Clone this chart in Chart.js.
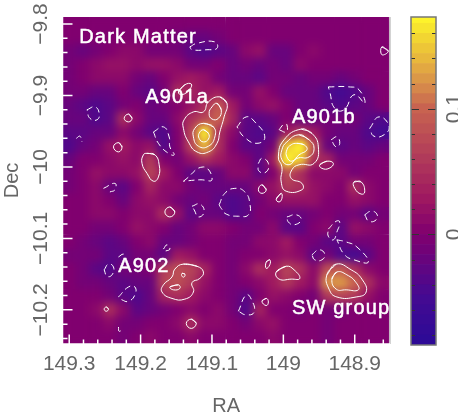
<!DOCTYPE html>
<html><head><meta charset="utf-8">
<style>html,body{margin:0;padding:0;background:#fff;width:458px;height:414px;overflow:hidden}
#wrap{position:relative;width:458px;height:414px}
#map{position:absolute;left:0;top:0}#bar{position:absolute;left:400px;top:0}</style>
<script src="https://cdn.jsdelivr.net/npm/chart.js@4"></script>
</head><body><div id="wrap"><canvas id="map" width="458" height="414"></canvas><canvas id="bar" width="58" height="414"></canvas></div>
<script>
const raCenters=[149.300,149.281,149.262,149.243,149.224,149.205,149.186,149.167,149.148,149.129,149.110,149.091,149.071,149.052,149.033,149.014,148.995,148.976,148.957,148.938,148.919,148.900,148.881,148.862];
const decCenters=[-9.800,-9.819,-9.838,-9.857,-9.876,-9.895,-9.914,-9.933,-9.952,-9.971,-9.990,-10.009,-10.028,-10.047,-10.066,-10.085,-10.105,-10.124,-10.143,-10.162,-10.181,-10.200,-10.219,-10.238];
const massRows=[
[0,0,0,0,0,0,0,0,0,0,0,0,0,0,0,0,0,0,0,0,0,0,0,0],
[0,0,0,0,0,0,0,0,-.01,-.02,-.02,-.01,0,0,0,0,0,0,0,0,0,0,0,0],
[-.01,-.02,-.01,0,.01,.01,-.01,-.01,-.01,-.03,-.04,-.03,-.02,.01,.02,-.02,-.02,0,.01,0,0,0,0,0],
[-.01,0,.01,.02,.02,.01,.02,.02,.01,-.01,-.01,0,-.02,-.01,-.02,-.01,-.02,.01,0,0,0,0,0,0],
[-.01,0,.01,.01,.01,-.01,-.02,0,.02,.03,.02,-.01,-.02,-.02,-.03,-.01,-.01,-.02,-.01,-.01,-.02,-.01,0,0],
[-.01,-.01,-.02,-.02,0,-.02,-.03,-.01,.05,.04,.02,.03,-.01,-.01,.02,0,-.02,-.02,-.02,-.04,-.05,-.04,-.02,0],
[-.02,-.03,-.04,-.03,-.01,0,-.02,-.01,0,.02,.05,.09,.03,-.01,.01,.02,0,-.02,-.02,-.03,-.04,-.03,-.02,0],
[-.02,-.02,-.04,-.03,.05,.01,-.02,-.02,.01,.05,.07,.10,.04,-.03,-.03,-.02,0,-.02,-.02,-.01,-.01,-.01,-.03,-.04],
[-.03,-.03,-.02,-.02,.01,-.01,-.03,-.04,0,.07,.17,.05,.01,-.03,-.04,-.03,.03,.06,.03,-.01,-.02,-.02,-.04,-.05],
[-.04,-.02,-.01,.02,.03,.01,.02,-.04,0,.07,.14,.05,0,-.03,-.03,-.01,.15,.18,.08,-.02,-.03,-.02,-.03,-.02],
[-.02,0,0,.01,.02,.01,.06,0,-.01,.02,.05,.03,.01,0,-.03,.03,.20,.15,.05,.04,-.01,-.01,-.01,0],
[-.01,0,.02,.01,.01,.02,.07,.03,0,-.03,-.03,-.02,.01,.01,-.03,0,.08,.05,.01,.01,.01,-.01,0,0],
[-.01,0,.01,-.02,-.03,0,.04,.01,.01,-.01,-.02,-.02,-.02,-.02,.01,.02,.06,.05,.02,.01,0,.05,.01,0],
[0,0,.01,0,-.02,.01,.02,.01,-.01,-.02,-.01,-.03,-.04,-.03,-.01,.01,.02,.02,.02,0,0,.02,.01,0],
[0,0,.01,.01,0,.01,.01,.05,.02,-.03,-.02,-.02,-.04,-.03,0,-.01,-.02,-.02,-.01,0,-.01,-.01,-.03,-.01],
[0,0,-.01,-.01,0,.02,.01,0,-.02,-.01,.01,.01,0,-.01,-.01,.01,-.03,-.03,0,.01,-.03,.02,.01,0],
[0,-.01,-.02,-.03,-.02,0,.01,-.02,-.02,-.01,0,0,-.01,-.01,.01,.01,.03,0,-.01,-.03,-.03,-.01,-.01,0],
[-.01,-.01,-.01,-.03,-.03,-.01,-.01,-.03,.03,.02,0,0,-.01,0,0,.01,.02,.01,-.03,-.01,-.04,-.05,-.03,0],
[0,-.01,-.03,-.04,-.01,-.01,0,.06,.08,.07,.04,0,-.01,.01,.05,.03,.07,.05,.01,.08,.09,.05,.01,0],
[0,-.01,-.01,-.02,-.03,-.02,-.02,.07,.08,.06,.02,0,-.01,0,.01,.03,.06,.03,.01,.12,.125,.10,.05,.01],
[0,0,0,-.01,-.03,-.04,-.02,.04,.05,.03,.01,0,-.01,-.03,0,.02,.01,0,-.01,.06,.07,.06,.02,0],
[0,0,.01,.05,.01,-.03,-.02,-.01,0,.01,0,.01,-.01,-.04,.04,0,0,-.01,0,-.01,-.01,0,0,0],
[0,0,0,.01,-.01,-.01,0,0,.01,.05,.01,.01,0,-.01,.01,.02,0,0,0,-.01,0,0,0,0],
[0,0,0,0,-.01,0,.01,0,0,.01,0,0,0,0,0,.01,0,0,0,-.01,0,0,0,0]];
const solidContours=[
[149.089,-9.902,149.079,-9.911,149.083,-9.930,149.089,-9.951,149.093,-9.967,149.105,-9.979,149.121,-9.979,149.133,-9.965,149.140,-9.946,149.139,-9.934,149.126,-9.923,149.112,-9.923,149.105,-9.909],
[149.093,-9.911,149.087,-9.920,149.091,-9.932,149.100,-9.933,149.104,-9.925,149.100,-9.916],
[149.112,-9.939,149.098,-9.944,149.096,-9.958,149.105,-9.971,149.119,-9.971,149.126,-9.958,149.124,-9.946],
[149.112,-9.948,149.105,-9.953,149.105,-9.961,149.112,-9.965,149.118,-9.960,149.118,-9.953],
[149.191,-9.981,149.180,-9.983,149.174,-9.997,149.175,-10.014,149.182,-10.020,149.191,-10.009,149.198,-9.995,149.196,-9.983],
[149.217,-9.926,149.212,-9.932,149.217,-9.937,149.223,-9.932],
[149.231,-9.966,149.226,-9.972,149.231,-9.979,149.238,-9.972],
[149.147,-9.895,149.138,-9.885,149.129,-9.884,149.131,-9.891,149.142,-9.899],
[148.975,-9.947,148.960,-9.953,148.951,-9.972,148.957,-9.995,148.978,-9.997,148.988,-10.004,148.989,-10.016,148.974,-10.023,148.974,-10.032,148.996,-10.034,149.003,-10.021,149.002,-10.000,149.007,-9.986,148.999,-9.962],
[148.978,-9.955,148.964,-9.962,148.957,-9.974,148.964,-9.986,148.981,-9.988,148.992,-9.997,149.002,-9.990,149.002,-9.976,148.995,-9.965],
[148.981,-9.967,148.971,-9.969,148.967,-9.976,148.978,-9.983,148.988,-9.992,148.995,-9.986,148.995,-9.976,148.989,-9.969],
[148.949,-9.997,148.939,-9.992,148.930,-9.995,148.936,-10.002,148.946,-10.002],
[148.901,-10.021,148.891,-10.021,148.886,-10.035,148.891,-10.038,148.900,-10.030],
[149.030,-10.025,149.024,-10.032,149.030,-10.037,149.035,-10.032],
[149.010,-10.045,149.003,-10.037,149.002,-10.044,149.006,-10.049],
[148.862,-9.832,148.853,-9.838,148.862,-9.843],
[149.159,-10.056,149.152,-10.063,149.159,-10.070,149.166,-10.063],
[149.140,-10.136,149.121,-10.139,149.112,-10.147,149.117,-10.156,149.128,-10.162,149.126,-10.175,149.138,-10.185,149.156,-10.184,149.170,-10.175,149.168,-10.165,149.156,-10.154,149.152,-10.143],
[149.159,-10.168,149.147,-10.165,149.145,-10.170,149.154,-10.172],
[149.142,-10.149,149.138,-10.150,149.139,-10.154,149.142,-10.153],
[149.248,-10.196,149.245,-10.199,149.248,-10.202,149.251,-10.199],
[149.129,-10.213,149.122,-10.219,149.129,-10.226,149.136,-10.219],
[149.024,-10.133,149.019,-10.130,149.019,-10.137,149.024,-10.142],
[149.010,-10.147,148.996,-10.139,148.985,-10.144,148.977,-10.156,148.989,-10.157,149.006,-10.157],
[148.939,-10.151,148.926,-10.136,148.905,-10.144,148.890,-10.157,148.884,-10.175,148.898,-10.182,148.925,-10.182,148.936,-10.171],
[148.932,-10.157,148.925,-10.147,148.911,-10.151,148.898,-10.162,148.895,-10.172,148.912,-10.172,148.926,-10.171],
[149.030,-10.188,149.024,-10.184,149.021,-10.189,149.024,-10.194]];
const dashedContours=[
[149.131,-9.832,149.121,-9.827,149.096,-9.825,149.093,-9.834,149.107,-9.836,149.128,-9.836],
[149.275,-9.920,149.264,-9.916,149.258,-9.925,149.261,-9.934,149.271,-9.932],
[149.182,-9.951,149.168,-9.944,149.160,-9.958,149.159,-9.972,149.153,-9.983,149.161,-9.981,149.175,-9.967],
[149.140,-10.020,149.112,-10.000,149.100,-10.018,149.117,-10.018],
[149.090,-10.053,149.082,-10.037,149.068,-10.030,149.054,-10.035,149.047,-10.051,149.049,-10.067,149.063,-10.069,149.080,-10.066,149.087,-10.058],
[149.128,-10.055,149.117,-10.052,149.111,-10.063,149.119,-10.070,149.125,-10.060],
[149.065,-9.944,149.052,-9.930,149.040,-9.937,149.026,-9.958,149.037,-9.967,149.055,-9.958],
[149.006,-9.948,148.999,-9.940,148.995,-9.941,148.996,-9.951],
[148.937,-9.888,148.908,-9.888,148.894,-9.892,148.886,-9.911,148.901,-9.899,148.915,-9.920,148.928,-9.918,148.935,-9.895],
[148.879,-9.946,148.866,-9.930,148.852,-9.943,148.859,-9.955,148.873,-9.957],
[148.933,-9.962,148.925,-9.958,148.921,-9.967,148.926,-9.972],
[149.035,-9.995,149.030,-9.988,149.021,-9.995,149.024,-10.007,149.034,-10.006],
[149.251,-10.144,149.245,-10.136,149.238,-10.140,149.240,-10.151,149.247,-10.153],
[149.231,-10.182,149.217,-10.168,149.208,-10.168,149.208,-10.179,149.217,-10.188,149.226,-10.186],
[148.995,-10.070,148.982,-10.067,148.975,-10.074,148.985,-10.081,148.993,-10.077],
[148.886,-10.067,148.877,-10.062,148.869,-10.066,148.870,-10.074,148.880,-10.076],
[148.937,-10.087,148.926,-10.076,148.921,-10.077,148.925,-10.091,148.930,-10.102,148.937,-10.097],
[148.925,-10.102,148.912,-10.105,148.897,-10.112,148.881,-10.133,148.901,-10.130,148.915,-10.122],
[148.960,-10.123,148.950,-10.116,148.942,-10.122,148.946,-10.130,148.956,-10.130],
[149.063,-10.202,149.052,-10.179,149.045,-10.185,149.041,-10.203,149.052,-10.207]];
const openArcs=[
[149.290,-9.960,149.285,-9.957,149.282,-9.965],
[149.252,-10.030,149.236,-10.023,149.236,-10.032,149.243,-10.035],
[149.168,-10.115,149.163,-10.109,149.159,-10.115,149.166,-10.118],
[149.231,-10.126,149.224,-10.122,149.220,-10.126],
[149.231,-10.224,149.230,-10.230,149.224,-10.226]];
const raMajor=[149.3,149.2,149.1,149,148.9];
const raLabels=['149.3','149.2','149.1','149','148.9'];
const raMinor=[149.28,149.26,149.24,149.22,149.18,149.16,149.14,149.12,149.08,149.06,149.04,149.02,148.98,148.96,148.94,148.92,148.88,148.86];
const decMajor=[-9.8,-9.9,-10,-10.1,-10.2];
const decLabels=['\u22129.8','\u22129.9','\u221210','\u221210.1','\u221210.2'];
const decMinor=[-9.82,-9.84,-9.86,-9.88,-9.92,-9.94,-9.96,-9.98,-10.02,-10.04,-10.06,-10.08,-10.12,-10.14,-10.16,-10.18,-10.22,-10.24];
const noteTexts=['Dark Matter','A901a','A901b','A902','SW group'];
const noteRA=[149.286,149.1936,148.988,149.2314,148.988];
const noteDec=[-9.8266,-9.9106,-9.9386,-10.1472,-10.206];
const barMajor=[0,0.1];
const barLabels=['0','0.1'];
const barMinor=[-0.08,-0.06,-0.04,-0.02,0.02,0.04,0.06,0.08,0.12,0.14,0.16];
const bandEdges=[-.088,-.08,-.072,-.064,-.056,-.048,-.04,-.032,-.024,-.016,-.008,0,.008,.016,.024,.032,.04,.048,.056,.064,.072,.08,.088,.096,.104,.112,.12,.128,.136,.144,.152,.16,.168,.173];
const stopValues=[-.088,-.05,0,.03,.06,.1,.12,.14,.16,.173];
const stopColors=[[43,10,150],[68,10,146],[128,0,111],[160,26,96],[176,58,90],[200,99,80],[216,144,74],[232,184,60],[244,220,48],[255,248,42]];
function colorOf(v){
  let i=0; while(i<stopValues.length-2&&v>stopValues[i+1])i++;
  let t=(v-stopValues[i])/(stopValues[i+1]-stopValues[i]); t=Math.max(0,Math.min(1,t));
  const a=stopColors[i],b=stopColors[i+1];
  return 'rgb('+[0,1,2].map(k=>Math.round(a[k]+(b[k]-a[k])*t)).join(',')+')';
}
const cellPoints=[],cellColors=[];
massRows.forEach((row,j)=>row.forEach((v,i)=>{cellPoints.push({x:raCenters[i],y:decCenters[j]});cellColors.push(colorOf(v));}));
function pairs(a,closed,wrap){const p=[];for(let i=0;i<a.length;i+=2)p.push({x:a[i],y:a[i+1]});if(closed)p.push(p[0]);if(wrap)p.push(p[1]);return p;}
function lineSet(a,dash,closed,wrap){return {type:'scatter',data:pairs(a,closed,wrap),showLine:true,tension:.5,pointRadius:0,borderColor:'#fff',borderWidth:1,borderDash:dash,order:1,fill:false};}
const FONT='"Liberation Sans"';
const GREY='#666';
const mapDecor={id:'mapDecor',
 afterDatasetDraw(chart,args){
  if(args.index!==0)return;
  const a=chart.chartArea,c=chart.ctx,cv=chart.canvas;
  const off=document.createElement('canvas');off.width=cv.width;off.height=cv.height;
  off.getContext('2d').drawImage(cv,0,0);
  c.save();c.beginPath();c.rect(a.left,a.top,a.right-a.left,a.bottom-a.top);c.clip();
  c.filter='blur(4.5px)';c.drawImage(off,0,0);c.filter='none';c.restore();
 },
 afterDatasetsDraw(chart){
  const a=chart.chartArea,c=chart.ctx,X=chart.scales.x,Y=chart.scales.y;
  c.save();
  c.strokeStyle='#c4c4c4';c.lineWidth=1.5;c.beginPath();c.moveTo(a.right,a.top);c.lineTo(a.right,a.bottom);c.stroke();
  c.strokeStyle='#fff';c.lineWidth=1.5;
  c.beginPath();c.moveTo(a.left,a.top);c.lineTo(a.left,a.bottom);c.lineTo(a.right,a.bottom);
  const tk=(vals,len)=>{vals.forEach(v=>{const px=X.getPixelForValue(v);c.moveTo(px,a.bottom);c.lineTo(px,a.bottom-len);});};
  const tl=(vals,len)=>{vals.forEach(v=>{const py=Y.getPixelForValue(v);c.moveTo(a.left,py);c.lineTo(a.left+len,py);});};
  tk(raMajor,9.5);tk(raMinor,4.5);tl(decMajor,10);tl(decMinor,5);c.stroke();
  c.fillStyle='#fff';c.strokeStyle='#fff';c.lineWidth=.5;c.font='20px '+FONT;c.textBaseline='alphabetic';c.textAlign='left';
  if('letterSpacing' in c)c.letterSpacing='1.2px';
  noteTexts.forEach((t,i)=>{const px=X.getPixelForValue(noteRA[i]),py=Y.getPixelForValue(noteDec[i]);c.fillText(t,px,py);c.strokeText(t,px,py);});
  c.restore();
 }};
const datasets=[{type:'scatter',data:cellPoints,pointStyle:'rect',pointRadius:10,pointHoverRadius:10,pointBorderWidth:0,pointBackgroundColor:cellColors,order:5,clip:0}];
solidContours.forEach(a=>datasets.push(lineSet(a,[],true,true)));
dashedContours.forEach(a=>datasets.push(lineSet(a,[6,4],true,false)));
openArcs.forEach(a=>datasets.push(lineSet(a,[6,4],false,false)));
new Chart(document.getElementById('map'),{type:'scatter',data:{datasets},plugins:[mapDecor],options:{
 responsive:false,animation:false,events:[],
 layout:{padding:{top:17,right:68,left:0,bottom:0}},
 plugins:{legend:{display:false},tooltip:{enabled:false}},
 scales:{
  x:{type:'linear',reverse:true,min:148.8506,max:149.3094,
   afterBuildTicks(s){s.ticks=raMajor.map(v=>({value:v}));},
   afterFit(s){s.height=70;},
   grid:{display:false},border:{display:false},
   ticks:{autoSkip:false,maxRotation:0,minRotation:0,padding:0,color:GREY,font:{family:FONT,size:21},callback(v){return raLabels[raMajor.indexOf(v)];}},
   title:{display:true,text:'RA',color:GREY,font:{family:FONT,size:20},padding:{top:0,bottom:-4}}},
  y:{type:'linear',min:-10.2478,max:-9.7902,
   afterBuildTicks(s){s.ticks=decMajor.map(v=>({value:v}));},
   afterFit(s){s.width=62.5;},
   grid:{display:false},border:{display:false},
   ticks:{autoSkip:false,minRotation:90,maxRotation:90,crossAlign:'center',padding:-13,color:GREY,font:{family:FONT,size:21},callback(v){return decLabels[decMajor.findIndex(m=>Math.abs(m-v)<1e-6)];}},
   title:{display:true,text:'Dec',color:GREY,font:{family:FONT,size:20},padding:{top:0,bottom:0}}}
 }}});
const barDecor={id:'barDecor',afterDatasetsDraw(chart){
  const a=chart.chartArea,c=chart.ctx,Y=chart.scales.y;
  c.save();c.strokeStyle='#333';c.lineWidth=1;c.beginPath();
  const t=(vals,len)=>vals.forEach(v=>{const p=Math.round(Y.getPixelForValue(v))+.5;c.moveTo(a.left,p);c.lineTo(a.left+len,p);c.moveTo(a.right,p);c.lineTo(a.right-len,p);});
  t(barMajor,8);t(barMinor,4);c.stroke();
  c.strokeStyle='#777';c.lineWidth=1.5;c.strokeRect(a.left,a.top,a.right-a.left,a.bottom-a.top);
  c.restore();
}};
const bandSets=[];
for(let i=0;i<bandEdges.length-1;i++)bandSets.push({data:[[bandEdges[i],bandEdges[i+1]]],backgroundColor:colorOf((bandEdges[i]+bandEdges[i+1])/2),borderWidth:0,barPercentage:1,categoryPercentage:1,grouped:false});
new Chart(document.getElementById('bar'),{type:'bar',data:{labels:['mass'],datasets:bandSets},plugins:[barDecor],options:{
 responsive:false,animation:false,events:[],
 layout:{padding:{left:11,top:17,right:0,bottom:0}},
 plugins:{legend:{display:false},tooltip:{enabled:false}},
 scales:{
  x:{display:true,grid:{display:false},border:{display:false},ticks:{display:false},afterFit(s){s.height=69;}},
  y:{position:'right',min:-.088,max:.173,
   afterBuildTicks(s){s.ticks=barMajor.map(v=>({value:v}));},
   afterFit(s){s.width=22;},
   grid:{display:false},border:{display:false},
   ticks:{autoSkip:false,minRotation:90,maxRotation:90,crossAlign:'center',padding:-4,color:GREY,font:{family:FONT,size:21},callback(v){const i=barMajor.findIndex(m=>Math.abs(m-v)<1e-6);return barLabels[i];}}}
 }}});
</script></body></html>
